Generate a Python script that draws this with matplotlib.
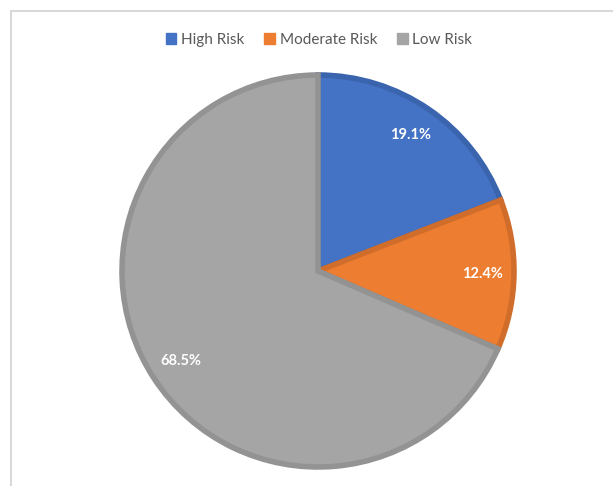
import matplotlib
matplotlib.use("Agg")
import matplotlib.pyplot as plt
from matplotlib.patches import Rectangle, Patch

categories = ["High Risk", "Moderate Risk", "Low Risk"]
values = [19.1, 12.4, 68.5]
colors = ["#4472C4", "#ED7D31", "#A5A5A5"]
edge_colors = ["#3B64AE", "#D06D2A", "#939393"]

plt.rcParams['font.family'] = ['Lato', 'DejaVu Sans']

fig = plt.figure(figsize=(6.13, 4.86), dpi=100)
fig.patch.set_facecolor("white")

# outer border (cropped at right/bottom)
fig.add_artist(Rectangle((10.5/613, -0.1), 1.2, 1 - 11.5/486 + 0.1,
                         transform=fig.transFigure, fill=False,
                         edgecolor="#D9D9D9", linewidth=1.5))

r_px = 196
cx, cy = 318, 271
ax = fig.add_axes([(cx - r_px) / 613, 1 - (cy + r_px) / 486,
                   2 * r_px / 613, 2 * r_px / 486])
wedges, texts, autotexts = ax.pie(values, colors=colors, startangle=90,
                                  counterclock=False, autopct="%.1f%%",
                                  pctdistance=0.84,
                                  wedgeprops=dict(linewidth=4, linestyle="-"),
                                  textprops=dict(color="white", fontsize=10.5,
                                                 fontweight="bold"))
for w, ec in zip(wedges, edge_colors):
    w.set_edgecolor(ec)
    w.set_joinstyle("miter")
ax.set_aspect("equal")
ax.set_xlim(-1.0, 1.0)
ax.set_ylim(-1.0, 1.0)

handles = [Patch(facecolor=c, edgecolor=c) for c in colors]
fig.legend(handles, categories, loc="center", bbox_to_anchor=(319 / 613, 1 - 40 / 486),
           ncol=3, frameon=False, fontsize=11, handlelength=0.7, handleheight=0.7,
           handletextpad=0.3, columnspacing=1.3, labelcolor="#595959")

fig.savefig("out.png", dpi=100, facecolor="white")
